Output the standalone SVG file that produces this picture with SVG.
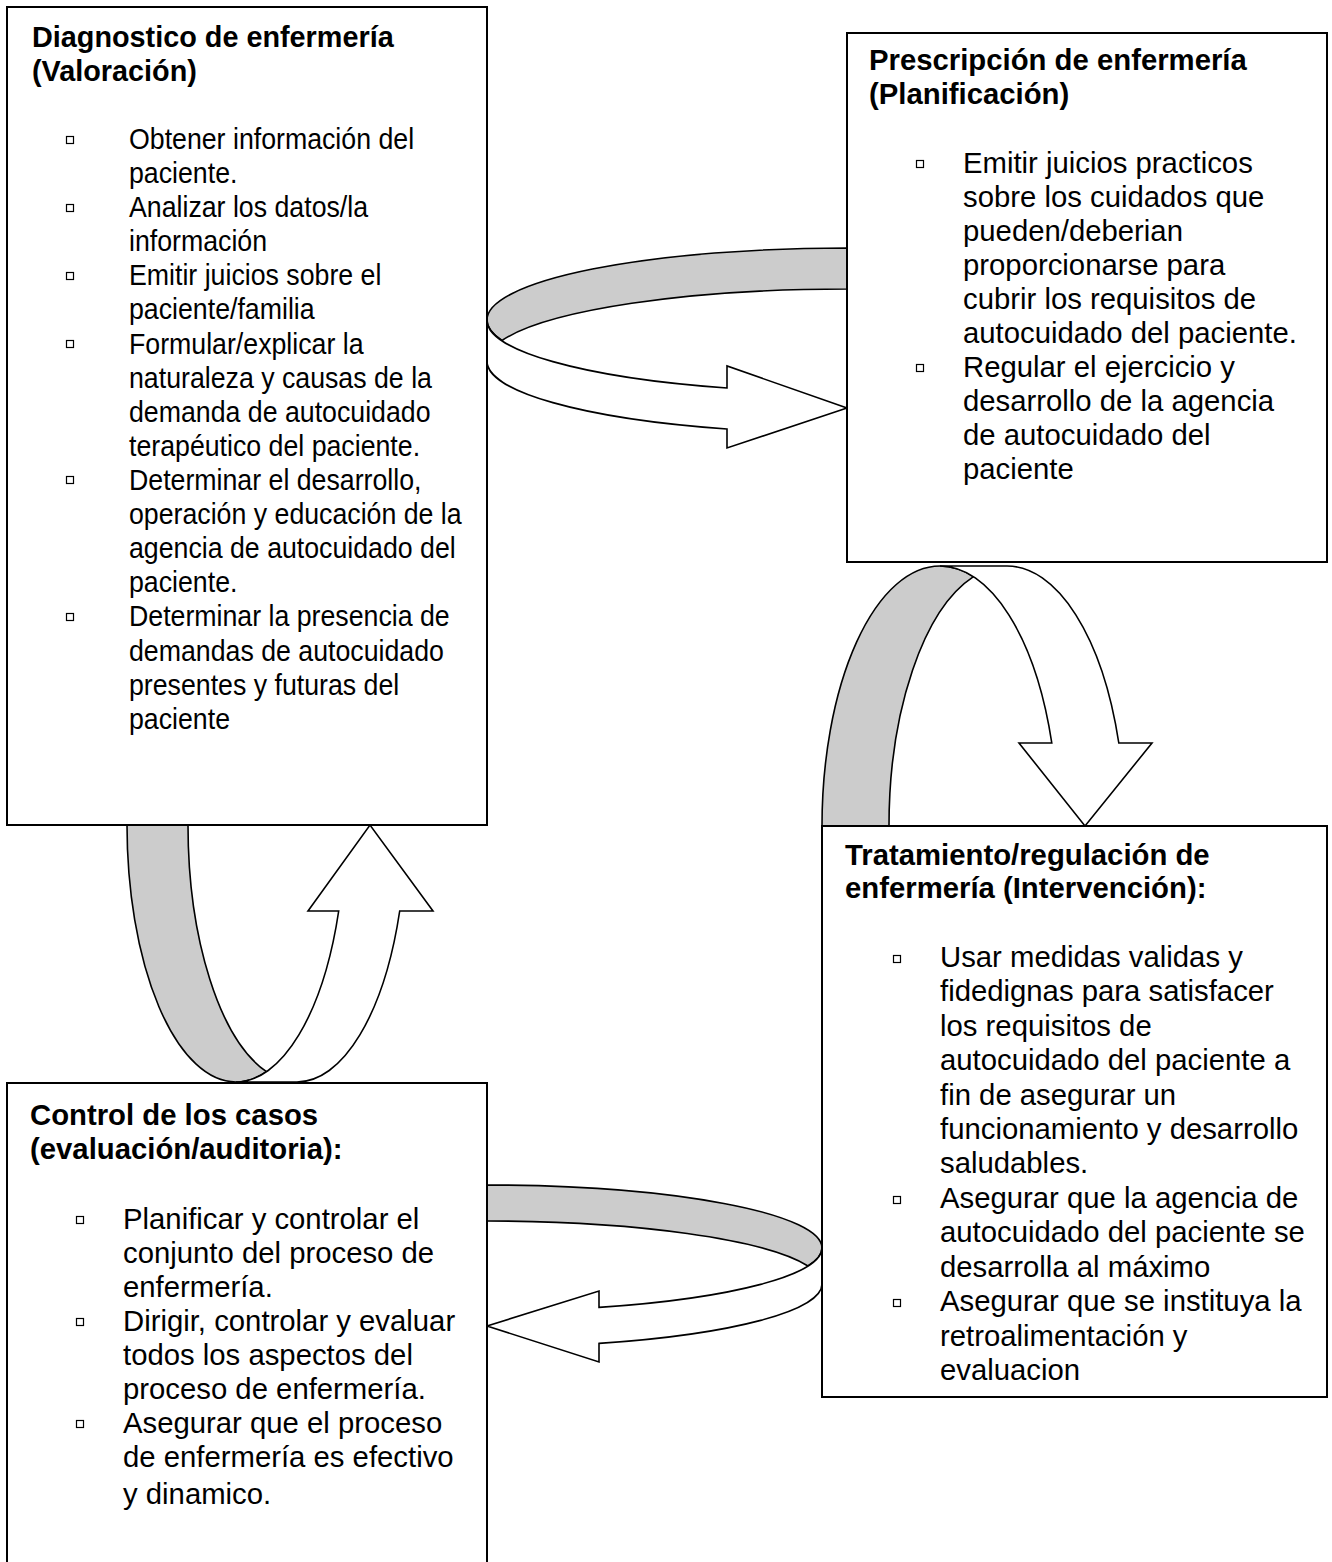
<svg xmlns="http://www.w3.org/2000/svg" width="1332" height="1562" viewBox="0 0 1332 1562">
<style>
  .box { fill: #ffffff; stroke: #000000; stroke-width: 2; }
  .t { font-family: "Liberation Sans", Arial, sans-serif; font-size: 29.3px; fill: #000000; }
  .h { font-weight: bold; }
  .bul { fill: none; stroke: #000000; stroke-width: 1.2; }
  .back { fill: #cccccc; stroke: #000000; stroke-width: 1.6; stroke-linejoin: round; }
  .front { fill: #ffffff; stroke: #000000; stroke-width: 1.6; stroke-linejoin: miter; }
</style>
<rect width="1332" height="1562" fill="#ffffff"/>

<g id="connectors">
  <!-- top: Valoracion -> Planificacion -->
  <g id="arrow-top">
    <path class="back" d="M 847,248 A 360 72 0 0 0 487,320 A 360 72 0 0 0 502,340.5 A 360 72 0 0 1 847,289 Z"/>
    <path class="front" d="M 487,320 A 360 72 0 0 0 727,388 L 727,366 L 847,408 L 727,448 L 727,429 A 360 72 0 0 1 487,361 Z"/>
  </g>
  <!-- right: Planificacion -> Intervencion -->
  <g id="arrow-right">
    <path class="back" d="M 822,826 A 118 260 0 0 1 940,566 A 118 260 0 0 1 973.5,576.7 A 118 260 0 0 0 889,826 Z"/>
    <path class="front" d="M 940,566 L 1007,566 A 118 260 0 0 1 1118.8,743 L 1152,743 L 1085,826 L 1019,743 L 1051.8,743 A 118 260 0 0 0 940,566 Z"/>
  </g>
  <!-- bottom: Intervencion -> Control -->
  <g id="arrow-bottom">
    <path class="back" d="M 487,1185 A 335 63 0 0 1 822,1248 A 335 63 0 0 1 808,1266 A 335 63 0 0 0 487,1221 Z"/>
    <path class="front" d="M 822,1248 L 822,1284 A 335 63 0 0 1 599,1343.4 L 599,1362 L 487,1326 L 599,1291 L 599,1307.4 A 335 63 0 0 0 822,1248 Z"/>
  </g>
  <!-- left: Control -> Valoracion -->
  <g id="arrow-left">
    <path class="back" d="M 127,825 A 109 257 0 0 0 236,1082 A 109 257 0 0 0 266.5,1071.7 A 109 257 0 0 1 188,825 Z"/>
    <path class="front" d="M 236,1082 L 297,1082 A 109 257 0 0 0 399.7,911 L 433,911 L 370,825 L 308,911 L 338.7,911 A 109 257 0 0 1 236,1082 Z"/>
  </g>
</g>

<g id="node-valoracion">
  <rect class="box" x="7" y="7" width="480" height="818"/>
  <text class="t h" x="32" y="47" style="font-size:28.8px">Diagnostico de enfermería</text>
  <text class="t h" x="32" y="81" style="font-size:28.8px">(Valoración)</text>
  <rect class="bul" x="66.5" y="136.5" width="7" height="7"/>
  <rect class="bul" x="66.5" y="204.5" width="7" height="7"/>
  <rect class="bul" x="66.5" y="272.5" width="7" height="7"/>
  <rect class="bul" x="66.5" y="340.5" width="7" height="7"/>
  <rect class="bul" x="66.5" y="476.5" width="7" height="7"/>
  <rect class="bul" x="66.5" y="613.5" width="7" height="7"/>
  <g transform="translate(129 0) scale(0.912 1) translate(-129 0)">
    <text class="t" x="129" y="149">Obtener información del</text>
    <text class="t" x="129" y="183">paciente.</text>
    <text class="t" x="129" y="217">Analizar los datos/la</text>
    <text class="t" x="129" y="251">información</text>
    <text class="t" x="129" y="285">Emitir juicios sobre el</text>
    <text class="t" x="129" y="319">paciente/familia</text>
    <text class="t" x="129" y="354">Formular/explicar la</text>
    <text class="t" x="129" y="388">naturaleza y causas de la</text>
    <text class="t" x="129" y="422">demanda de autocuidado</text>
    <text class="t" x="129" y="456">terapéutico del paciente.</text>
    <text class="t" x="129" y="490">Determinar el desarrollo,</text>
    <text class="t" x="129" y="524">operación y educación de la</text>
    <text class="t" x="129" y="558">agencia de autocuidado del</text>
    <text class="t" x="129" y="592">paciente.</text>
    <text class="t" x="129" y="626">Determinar la presencia de</text>
    <text class="t" x="129" y="661">demandas de autocuidado</text>
    <text class="t" x="129" y="695">presentes y futuras del</text>
    <text class="t" x="129" y="729">paciente</text>
  </g>
</g>

<g id="node-planificacion">
  <rect class="box" x="847" y="33" width="480" height="529"/>
  <text class="t h" x="869" y="70">Prescripción de enfermería</text>
  <text class="t h" x="869" y="104">(Planificación)</text>
  <rect class="bul" x="916.5" y="160.5" width="7" height="7"/>
  <rect class="bul" x="916.5" y="364.5" width="7" height="7"/>
  <text class="t" x="963" y="173">Emitir juicios practicos</text>
  <text class="t" x="963" y="207">sobre los cuidados que</text>
  <text class="t" x="963" y="241">pueden/deberian</text>
  <text class="t" x="963" y="275">proporcionarse para</text>
  <text class="t" x="963" y="309">cubrir los requisitos de</text>
  <text class="t" x="963" y="343">autocuidado del paciente.</text>
  <text class="t" x="963" y="377">Regular el ejercicio y</text>
  <text class="t" x="963" y="411">desarrollo de la agencia</text>
  <text class="t" x="963" y="445">de autocuidado del</text>
  <text class="t" x="963" y="479">paciente</text>
</g>

<g id="node-intervencion">
  <rect class="box" x="822" y="826" width="505" height="571"/>
  <text class="t h" x="845" y="865">Tratamiento/regulación de</text>
  <text class="t h" x="845" y="898">enfermería (Intervención):</text>
  <rect class="bul" x="893.5" y="955.5" width="7" height="7"/>
  <rect class="bul" x="893.5" y="1196.5" width="7" height="7"/>
  <rect class="bul" x="893.5" y="1299.5" width="7" height="7"/>
  <text class="t" x="940" y="967">Usar medidas validas y</text>
  <text class="t" x="940" y="1001">fidedignas para satisfacer</text>
  <text class="t" x="940" y="1036">los requisitos de</text>
  <text class="t" x="940" y="1070">autocuidado del paciente a</text>
  <text class="t" x="940" y="1105">fin de asegurar un</text>
  <text class="t" x="940" y="1139">funcionamiento y desarrollo</text>
  <text class="t" x="940" y="1173">saludables.</text>
  <text class="t" x="940" y="1208">Asegurar que la agencia de</text>
  <text class="t" x="940" y="1242">autocuidado del paciente se</text>
  <text class="t" x="940" y="1277">desarrolla al máximo</text>
  <text class="t" x="940" y="1311">Asegurar que se instituya la</text>
  <text class="t" x="940" y="1346">retroalimentación y</text>
  <text class="t" x="940" y="1380">evaluacion</text>
</g>

<g id="node-control">
  <rect class="box" x="7" y="1083" width="480" height="500"/>
  <text class="t h" x="30" y="1125">Control de los casos</text>
  <text class="t h" x="30" y="1159">(evaluación/auditoria):</text>
  <rect class="bul" x="76.5" y="1216.5" width="7" height="7"/>
  <rect class="bul" x="76.5" y="1318.5" width="7" height="7"/>
  <rect class="bul" x="76.5" y="1420.5" width="7" height="7"/>
  <text class="t" x="123" y="1229">Planificar y controlar el</text>
  <text class="t" x="123" y="1263">conjunto del proceso de</text>
  <text class="t" x="123" y="1297">enfermería.</text>
  <text class="t" x="123" y="1331">Dirigir, controlar y evaluar</text>
  <text class="t" x="123" y="1365">todos los aspectos del</text>
  <text class="t" x="123" y="1399">proceso de enfermería.</text>
  <text class="t" x="123" y="1433">Asegurar que el proceso</text>
  <text class="t" x="123" y="1467">de enfermería es efectivo</text>
  <text class="t" x="123" y="1504">y dinamico.</text>
</g>
</svg>
